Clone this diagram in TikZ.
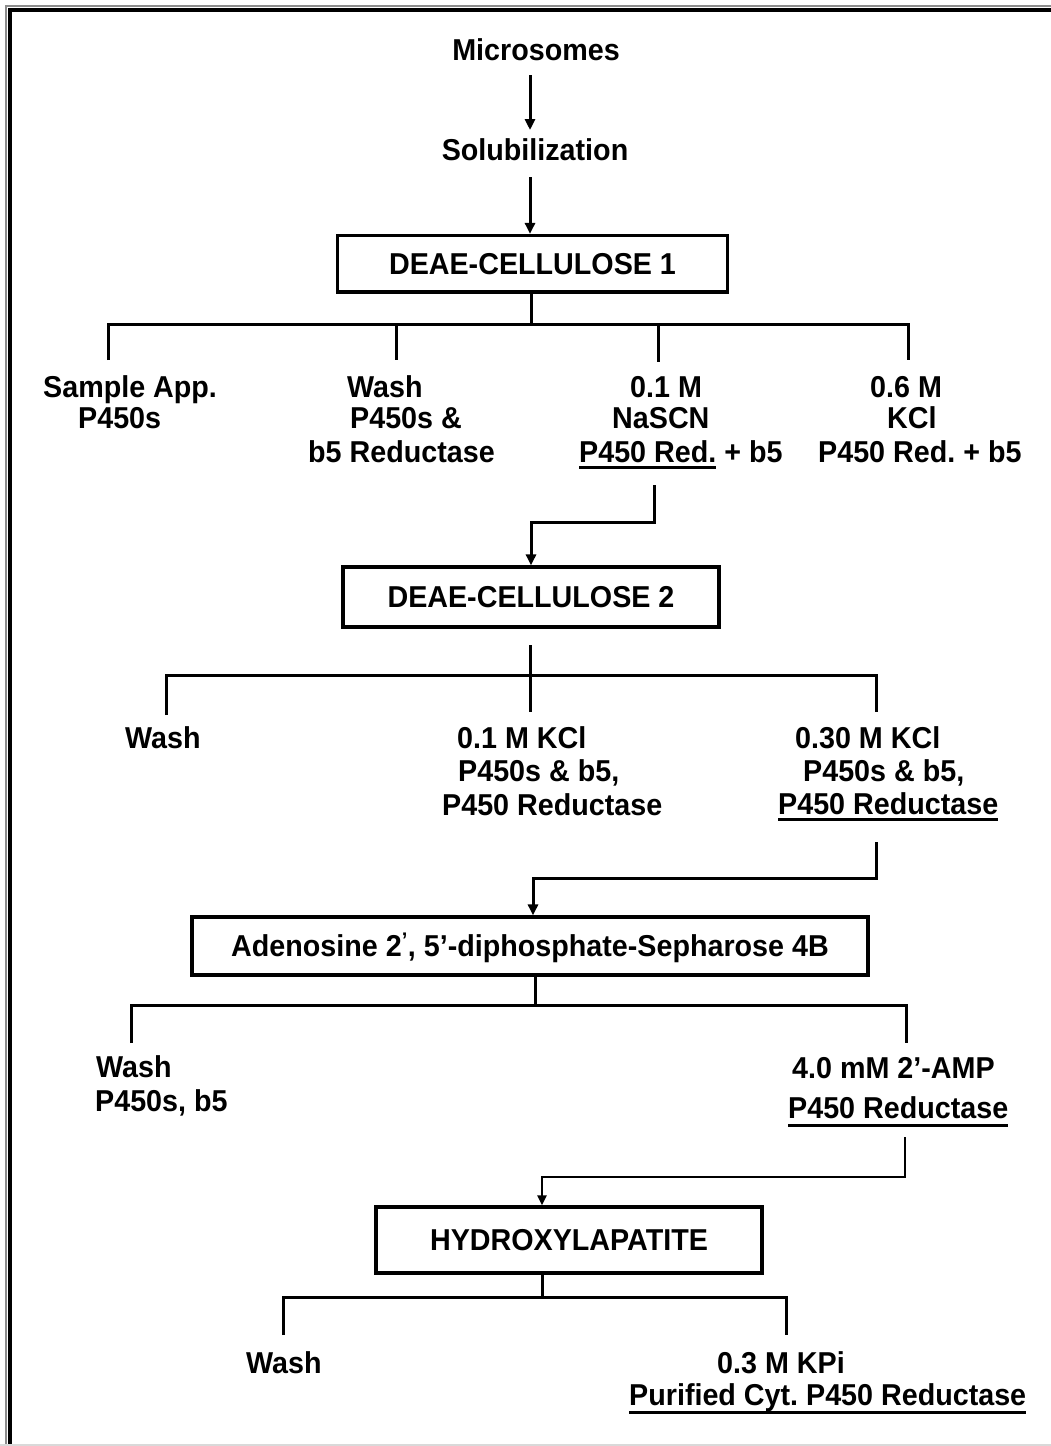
\documentclass[tikz,border=0pt]{standalone}
\usepackage{fontspec}
\setmainfont{Liberation Sans}[FakeStretch=0.95]
\usetikzlibrary{arrows.meta,calc}
\newsavebox{\ulbox}
\newcommand{\ulx}[2]{\sbox{\ulbox}{#2}\rlap{\rule[#1]{\wd\ulbox}{3pt}}\usebox{\ulbox}}
\begin{document}
\begin{tikzpicture}[x=1pt,y=-1pt,
  txt/.style={font=\fontsize{30.2}{33}\selectfont\bfseries\frenchspacing, inner sep=0pt, anchor=base west},
  ctxt/.style={txt, anchor=base},
  stage/.style={draw, line width=3.2pt, inner sep=0pt, font=\fontsize{30.2}{33}\selectfont\bfseries\frenchspacing, text height=21.6pt, text depth=0pt},
  ln/.style={line width=3pt, line join=miter},
  arr/.style={line width=3pt, line join=miter, -{Triangle[length=11pt,width=10pt]}},
  thinarr/.style={line width=2.4pt, line join=miter, -{Triangle[length=10pt,width=9pt]}}]
\useasboundingbox (0,0) rectangle (1051,1446);
\clip (0,0) rectangle (1051,1446);
% frame
\draw[black!45, line width=2pt] (6,1446) -- (6,6) -- (1051,6);
\draw[line width=4.5pt] (10,1446) -- (10,10) -- (1051,10);
\draw[black!15, line width=1.5pt] (0,1445) -- (1051,1445);

% top
\node[ctxt] (mic) at (536,60) {Microsomes};
\node[ctxt] (sol) at (535,160) {Solubilization};
\node[stage, minimum width=390pt, minimum height=56.5pt] (b1) at (532.5,263.75) {DEAE-CELLULOSE 1};
\coordinate (a1s) at ($(mic.base)+(-6,15)$);
\draw[arr] (a1s) -- ($(sol.base)+(-5,-30)$);
\coordinate (a2s) at ($(sol.base)+(-5,17)$);
\draw[arr] (a2s) -- (a2s |- b1.north);

% tier 1
\coordinate (bar1) at (531,324);
\coordinate (d1a) at (108,360);
\coordinate (d1b) at (396,360);
\coordinate (d1c) at (658,362);
\coordinate (d1d) at (908,360);
\draw[ln] (b1.south -| bar1) -- (bar1);
\draw[ln] (d1a) -- (d1a |- bar1) -- (d1d |- bar1) -- (d1d);
\draw[ln] (d1b |- bar1) -- (d1b);
\draw[ln] (d1c |- bar1) -- (d1c);

\node[txt] (t1a1) at (43,397) {Sample App.};
\node[txt] (t1a2) at (78,428) {P450s};
\node[txt] (t1b1) at (347,397) {Wash};
\node[txt] (t1b2) at (350,428) {P450s \&};
\node[txt] (t1b3) at (308,462) {b5 Reductase};
\node[txt] (t1c1) at (630,397) {0.1 M};
\node[txt] (t1c2) at (612,428) {NaSCN};
\node[txt] (t1c3) at (579,462) {\ulx{-6.5pt}{P450 Red.} + b5};
\node[txt] (t1d1) at (870,397) {0.6 M};
\node[txt] (t1d2) at (887,428) {KCl};
\node[txt] (t1d3) at (818,462) {P450 Red. + b5};

% DEAE 2
\node[stage, minimum width=376pt, minimum height=60pt] (b2) at (531,597) {DEAE-CELLULOSE 2};
\coordinate (n1) at (654,485);
\coordinate (n2) at (654,522);
\coordinate (n3) at (531,522);
\draw[arr] (n1) -- (n2) -- (n3) -- (n3 |- b2.north);

% tier 2
\coordinate (s2) at (530,645);
\coordinate (bar2) at (530,675);
\coordinate (d2a) at (166,715);
\coordinate (d2b) at (530,712);
\coordinate (d2c) at (876,712);
\draw[ln] (s2) -- (d2b);
\draw[ln] (d2a) -- (d2a |- bar2) -- (d2c |- bar2) -- (d2c);

\node[txt] (t2a) at (125,748) {Wash};
\node[txt] (t2b1) at (457,748) {0.1 M KCl};
\node[txt] (t2b2) at (458,781) {P450s \& b5,};
\node[txt] (t2b3) at (442,815) {P450 Reductase};
\node[txt] (t2c1) at (795,748) {0.30 M KCl};
\node[txt] (t2c2) at (803,781) {P450s \& b5,};
\node[txt] (t2c3) at (778,814) {\ulx{-6.5pt}{P450 Reductase}};

% Adenosine box
\node[stage, minimum width=676pt, minimum height=58pt] (b3) at (530,946) {Adenosine 2\textsuperscript{'}, 5’-diphosphate-Sepharose 4B};
\coordinate (k1) at (876,842);
\coordinate (k2) at (876,878);
\coordinate (k3) at (533,878);
\draw[arr] (k1) -- (k2) -- (k3) -- (k3 |- b3.north);

% tier 3
\coordinate (bar3) at (535,1005);
\coordinate (d3a) at (131,1043);
\coordinate (d3b) at (906,1043);
\draw[ln] (b3.south -| bar3) -- (bar3);
\draw[ln] (d3a) -- (d3a |- bar3) -- (d3b |- bar3) -- (d3b);

\node[txt] (t3a1) at (96,1077) {Wash};
\node[txt] (t3a2) at (95,1111) {P450s, b5};
\node[txt] (t3b1) at (792,1078) {4.0 mM 2’-AMP};
\node[txt] (t3b2) at (788,1118) {\ulx{-8.5pt}{P450 Reductase}};

% hydroxylapatite
\node[stage, minimum width=386pt, minimum height=66pt] (b4) at (569,1240) {HYDROXYLAPATITE};
\coordinate (m1) at (905,1137);
\coordinate (m2) at (905,1177);
\coordinate (m3) at (542,1177);
\draw[thinarr] (m1) -- (m2) -- (m3) -- (m3 |- b4.north);

% tier 4
\coordinate (bar4) at (542,1297);
\coordinate (d4a) at (283,1335);
\coordinate (d4b) at (786,1335);
\draw[ln] (b4.south -| bar4) -- (bar4);
\draw[ln] (d4a) -- (d4a |- bar4) -- (d4b |- bar4) -- (d4b);

\node[txt] (t4a) at (246,1373) {Wash};
\node[txt] (t4b1) at (717,1373) {0.3 M KPi};
\node[txt] (t4b2) at (629,1405) {\ulx{-8.5pt}{Purified Cyt. P450 Reductase}};
\end{tikzpicture}
\end{document}
